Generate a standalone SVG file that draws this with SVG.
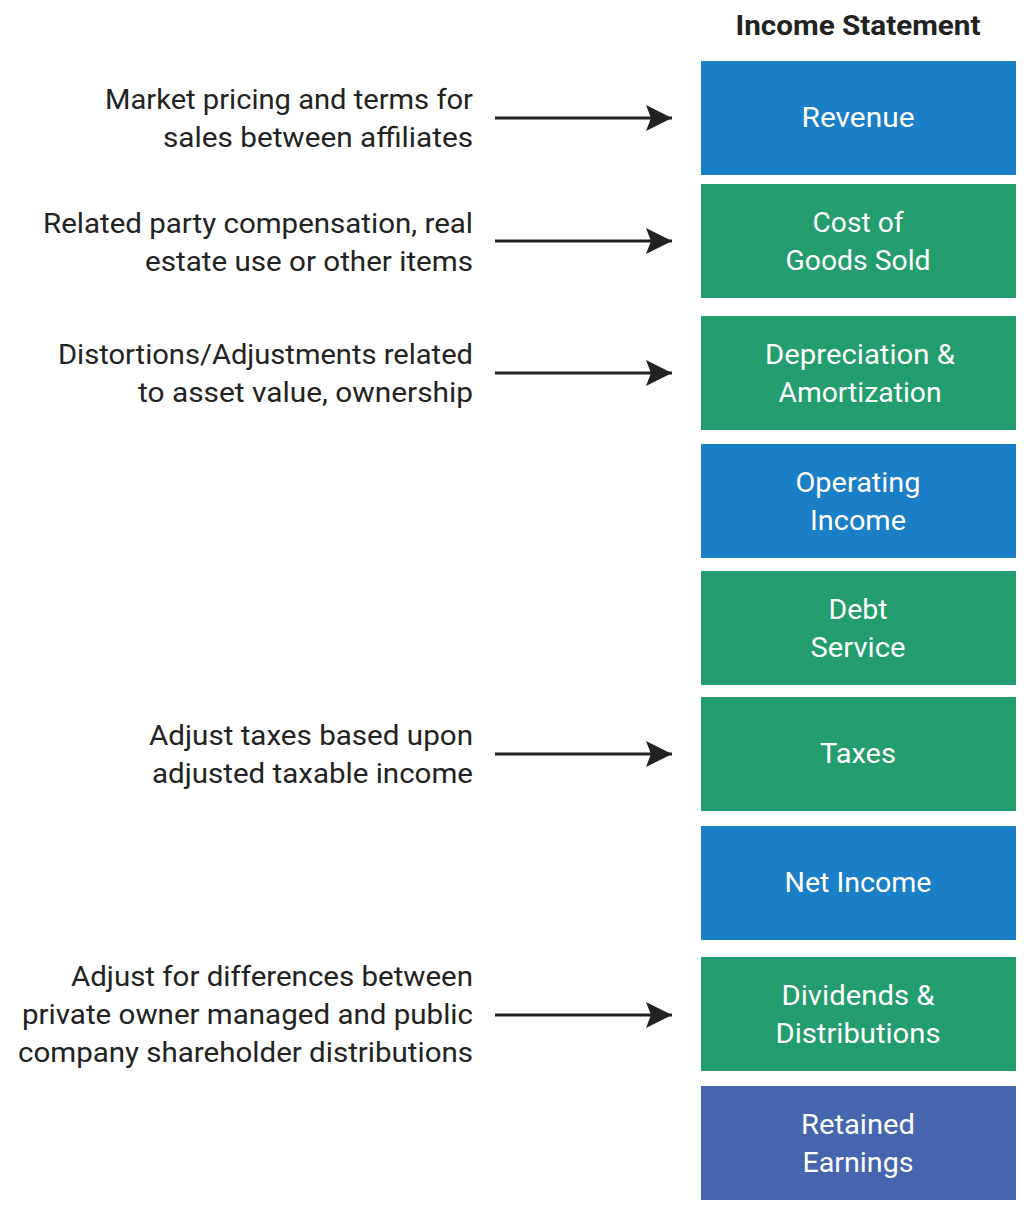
<svg xmlns="http://www.w3.org/2000/svg" width="1026" height="1210" viewBox="0 0 1026 1210">
<style>
.lbl{font-family:"Roboto","Liberation Sans",sans-serif;font-size:27px;fill:#222;text-anchor:end}
.bt{font-family:"Roboto","Liberation Sans",sans-serif;font-size:28px;fill:#fff;text-anchor:middle}
.blue{fill:#1a7fc6}.green{fill:#239d6e}.purple{fill:#4566ae}
.title{font-family:"Roboto","Liberation Sans",sans-serif;font-size:28px;font-weight:bold;fill:#222;text-anchor:middle}
.arr{stroke:#222;stroke-width:3;fill:none;marker-end:url(#ah)}
</style>
<defs>
<marker id="ah" markerWidth="28" markerHeight="28" refX="26" refY="13" orient="auto" markerUnits="userSpaceOnUse" viewBox="0 0 28 26">
<path d="M0,0 L26,13 L0,26 L5,13 Z" fill="#222"/>
</marker>
</defs>
<rect width="1026" height="1210" fill="#fff"/>
<text class="title" x="858" y="35" textLength="245" lengthAdjust="spacingAndGlyphs">Income Statement</text>
<g id="revenue"><rect class="blue" x="701" y="61" width="315" height="114"/><text class="bt" x="858" y="127" textLength="113" lengthAdjust="spacingAndGlyphs">Revenue</text></g>
<g id="cogs"><rect class="green" x="701" y="184" width="315" height="114"/><text class="bt" x="858" y="232" textLength="91" lengthAdjust="spacingAndGlyphs">Cost of</text><text class="bt" x="858" y="270" textLength="145" lengthAdjust="spacingAndGlyphs">Goods Sold</text></g>
<g id="da"><rect class="green" x="701" y="316" width="315" height="114"/><text class="bt" x="860" y="364" textLength="190" lengthAdjust="spacingAndGlyphs">Depreciation &amp;</text><text class="bt" x="860" y="402" textLength="163" lengthAdjust="spacingAndGlyphs">Amortization</text></g>
<g id="opinc"><rect class="blue" x="701" y="444" width="315" height="114"/><text class="bt" x="858" y="492" textLength="125" lengthAdjust="spacingAndGlyphs">Operating</text><text class="bt" x="858" y="530" textLength="96" lengthAdjust="spacingAndGlyphs">Income</text></g>
<g id="debt"><rect class="green" x="701" y="571" width="315" height="114"/><text class="bt" x="858" y="619" textLength="59" lengthAdjust="spacingAndGlyphs">Debt</text><text class="bt" x="858" y="657" textLength="95" lengthAdjust="spacingAndGlyphs">Service</text></g>
<g id="taxes"><rect class="green" x="701" y="697" width="315" height="114"/><text class="bt" x="858" y="763" textLength="76" lengthAdjust="spacingAndGlyphs">Taxes</text></g>
<g id="netinc"><rect class="blue" x="701" y="826" width="315" height="114"/><text class="bt" x="858" y="892" textLength="147" lengthAdjust="spacingAndGlyphs">Net Income</text></g>
<g id="div"><rect class="green" x="701" y="957" width="315" height="114"/><text class="bt" x="858" y="1005" textLength="153" lengthAdjust="spacingAndGlyphs">Dividends &amp;</text><text class="bt" x="858" y="1043" textLength="165" lengthAdjust="spacingAndGlyphs">Distributions</text></g>
<g id="ret"><rect class="purple" x="701" y="1086" width="315" height="114"/><text class="bt" x="858" y="1134" textLength="114" lengthAdjust="spacingAndGlyphs">Retained</text><text class="bt" x="858" y="1172" textLength="111" lengthAdjust="spacingAndGlyphs">Earnings</text></g>
<g id="notes">
<text class="lbl" x="473" y="109" textLength="368" lengthAdjust="spacingAndGlyphs">Market pricing and terms for</text>
<text class="lbl" x="473" y="147" textLength="310" lengthAdjust="spacingAndGlyphs">sales between affiliates</text>
<text class="lbl" x="473" y="233" textLength="430" lengthAdjust="spacingAndGlyphs">Related party compensation, real</text>
<text class="lbl" x="473" y="271" textLength="328" lengthAdjust="spacingAndGlyphs">estate use or other items</text>
<text class="lbl" x="473" y="364" textLength="415" lengthAdjust="spacingAndGlyphs">Distortions/Adjustments related</text>
<text class="lbl" x="473" y="402" textLength="335" lengthAdjust="spacingAndGlyphs">to asset value, ownership</text>
<text class="lbl" x="473" y="745" textLength="324" lengthAdjust="spacingAndGlyphs">Adjust taxes based upon</text>
<text class="lbl" x="473" y="783" textLength="321" lengthAdjust="spacingAndGlyphs">adjusted taxable income</text>
<text class="lbl" x="473" y="986" textLength="402" lengthAdjust="spacingAndGlyphs">Adjust for differences between</text>
<text class="lbl" x="473" y="1024" textLength="451" lengthAdjust="spacingAndGlyphs">private owner managed and public</text>
<text class="lbl" x="473" y="1062" textLength="455" lengthAdjust="spacingAndGlyphs">company shareholder distributions</text>
</g>
<g id="connectors">
<path class="arr" d="M495,118 H672"/>
<path class="arr" d="M495,241 H672"/>
<path class="arr" d="M495,373 H672"/>
<path class="arr" d="M495,754 H672"/>
<path class="arr" d="M495,1015 H672"/>
</g>
</svg>
